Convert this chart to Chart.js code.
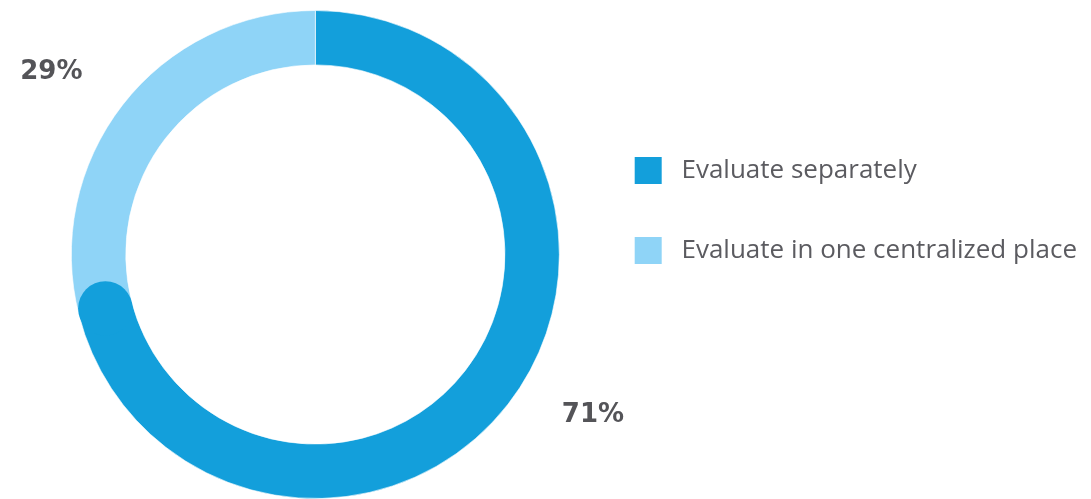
<!DOCTYPE html>
<html>
<head>
<meta charset="utf-8">
<script src="https://cdn.jsdelivr.net/npm/chart.js@4/dist/chart.umd.min.js"></script>
<style>
  html, body { margin: 0; padding: 0; background: #ffffff; }
  #wrap { width: 1091px; height: 499px; position: relative; }
</style>
</head>
<body>
<div id="wrap"><canvas id="c"></canvas></div>
<script>
const categories = ['Evaluate separately', 'Evaluate in one centralized place'];
const values = [71, 29];
const valueLabels = ['71%', '29%'];
const colors = ['#139fdb', '#8fd4f7'];

const TEXT_GRAY = '#5b5b60';
const LABEL_GRAY = '#545458';

const roundCapPlugin = {
  id: 'roundCap',
  afterDatasetsDraw(chart) {
    const meta = chart.getDatasetMeta(0);
    const arc = meta.data[0];
    if (!arc) return;
    const p = arc.getProps(['x', 'y', 'startAngle', 'endAngle', 'innerRadius', 'outerRadius'], true);
    const mid = (p.innerRadius + p.outerRadius) / 2;
    const r = (p.outerRadius - p.innerRadius) / 2;
    const ctx = chart.ctx;
    ctx.save();
    ctx.fillStyle = colors[0];
    ctx.beginPath();
    ctx.arc(p.x + Math.cos(p.endAngle) * mid, p.y + Math.sin(p.endAngle) * mid, r, 0, Math.PI * 2);
    ctx.fill();
    ctx.restore();
  }
};

const outsideLabelPlugin = {
  id: 'outsideLabels',
  afterDraw(chart) {
    const meta = chart.getDatasetMeta(0);
    const ctx = chart.ctx;
    ctx.save();
    ctx.font = 'bold 26px "DejaVu Sans"';
    ctx.fillStyle = LABEL_GRAY;
    ctx.textAlign = 'center';
    ctx.textBaseline = 'middle';
    meta.data.forEach((arc, i) => {
      const p = arc.getProps(['x', 'y', 'startAngle', 'endAngle', 'outerRadius'], true);
      const a = p.startAngle + (p.endAngle - p.startAngle) * 0.47;
      const d = p.outerRadius + 77;
      ctx.fillText(valueLabels[i], p.x + Math.cos(a) * d, p.y + Math.sin(a) * d);
    });
    ctx.restore();
  }
};

new Chart(document.getElementById('c'), {
  type: 'doughnut',
  data: {
    labels: categories,
    datasets: [{
      data: values,
      backgroundColor: colors,
      borderColor: 'rgba(255,255,255,0.6)',
      borderWidth: 1,
      hoverOffset: 0
    }]
  },
  options: {
    responsive: true,
    maintainAspectRatio: false,
    animation: false,
    cutout: '77.7%',
    layout: { padding: { left: 49, top: 10, bottom: 0, right: 4 } },
    plugins: {
      tooltip: { enabled: false },
      legend: {
        position: 'right',
        align: 'start',
        title: { display: true, text: '', font: { size: 10, lineHeight: 1 }, padding: { top: 84, bottom: 0 } },
        labels: {
          boxWidth: 27,
          boxHeight: 27,
          padding: 53,
          color: TEXT_GRAY,
          font: { family: '"Open Sans"', size: 26 },
          generateLabels(chart) {
            const items = Chart.overrides.doughnut.plugins.legend.labels.generateLabels(chart);
            items.forEach(it => { it.text = ' ' + it.text; it.lineWidth = 0; });
            return items;
          }
        }
      }
    }
  },
  plugins: [roundCapPlugin, outsideLabelPlugin]
});
</script>
</body>
</html>
